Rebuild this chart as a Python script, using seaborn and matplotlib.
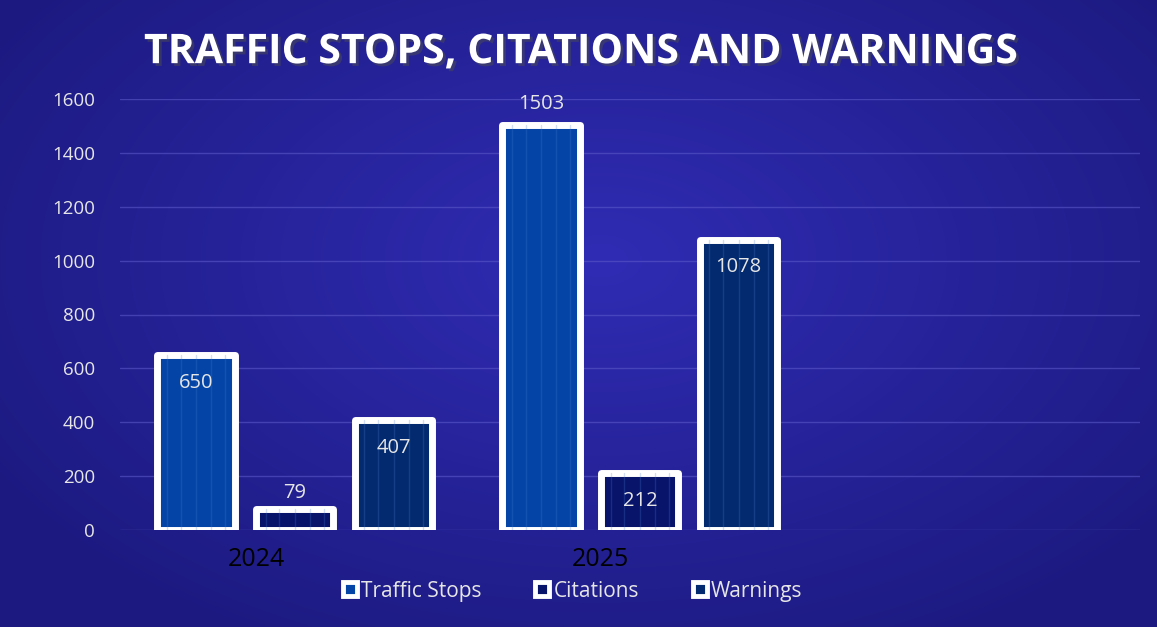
"""Traffic stops, citations and warnings - grouped bars by year."""

import matplotlib

matplotlib.use("Agg")
import matplotlib.pyplot as plt
import matplotlib.patheffects as pe
import matplotlib.transforms as mtransforms
from matplotlib.lines import Line2D
import numpy as np
import pandas as pd
import seaborn as sns

years = ["2024", "2025"]
series = ["Traffic Stops", "Citations", "Warnings"]
traffic_stops = [650, 1503]
citations = [79, 212]
warnings = [407, 1078]
y_ticks = [0, 200, 400, 600, 800, 1000, 1200, 1400, 1600]
colors = ["#0344a6", "#07146a", "#032a6e"]

sns.set_theme(style="white")
plt.rcParams["font.family"] = ["Open Sans", "DejaVu Sans"]

df = pd.DataFrame({
    "year": years * 3,
    "series": [s for s in series for _ in years],
    "value": traffic_stops + citations + warnings,
})

fig = plt.figure(figsize=(11.57, 6.27), dpi=100)

# fondo con degradado radial
bg = fig.add_axes([0, 0, 1, 1], zorder=-5)
yy, xx = np.mgrid[0:627, 0:1157]
r = np.sqrt(((xx - 600) / 720) ** 2 + ((yy - 260) / 440) ** 2)
r = np.clip(r, 0, 1)
c0 = np.array([0x30, 0x2c, 0xb4]) / 255
c1 = np.array([0x1c, 0x1a, 0x80]) / 255
img = c0[None, None, :] * (1 - r[..., None]) + c1[None, None, :] * r[..., None]
bg.imshow(img, aspect="auto", extent=[0, 1, 0, 1])
bg.axis("off")

ax = fig.add_axes([120 / 1157, 97 / 627, 1020 / 1157, 431 / 627])
ax.patch.set_alpha(0)

sns.barplot(data=df, x="year", y="value", hue="series", hue_order=series,
            palette=colors, saturation=1, width=0.86, gap=0.22, ax=ax,
            legend=False, zorder=3)

for p in ax.patches:
    p.set_edgecolor("white")
    p.set_linewidth(5)
    p.set_joinstyle("round")

for cont, vals in zip(ax.containers, [traffic_stops, citations, warnings]):
    for bar, v in zip(cont, vals):
        x0, w = bar.get_x(), bar.get_width()
        xc = x0 + w / 2
        # rayas verticales tenues dentro de la barra
        for f in (0.12, 0.3, 0.5, 0.7, 0.88):
            ax.plot([x0 + f * w] * 2, [0, v], color="#4a7fd0", alpha=0.25,
                    linewidth=1, zorder=4)
        if v < 150:
            ax.annotate(str(v), (xc, v), xytext=(0, 4), textcoords="offset points",
                        ha="center", va="bottom", color="#e6e6e6", fontsize=14.5,
                        zorder=5)
        elif v > 1450:
            ax.annotate(str(v), (xc, v), xytext=(0, 8), textcoords="offset points",
                        ha="center", va="bottom", color="#e6e6e6", fontsize=14.5,
                        zorder=5, annotation_clip=False)
        else:
            ax.annotate(str(v), (xc, v), xytext=(0, -20), textcoords="offset points",
                        ha="center", va="center", color="#e6e6e6", fontsize=14.5,
                        zorder=5)

ax.set_xlim(-0.507, 2.45)
ax.set_ylim(0, 1600)
ax.set_yticks(y_ticks)
ax.tick_params(axis="y", colors="#e6e6e6", labelsize=13.5, length=0, pad=18)
ax.tick_params(axis="x", colors="black", labelsize=18, length=0, pad=12)
ax.set_xticks(range(len(years)))
ax.set_xticklabels(years)
shift = mtransforms.ScaledTranslation(-39 / 100, 0, fig.dpi_scale_trans)
for lab in ax.get_xticklabels():
    lab.set_transform(lab.get_transform() + shift)
ax.set_xlabel("")
ax.set_ylabel("")
ax.grid(axis="y", color="#5a58c8", linewidth=1, alpha=0.6, zorder=0)
for s in ax.spines.values():
    s.set_visible(False)

fig.text(0.502, 0.916, "TRAFFIC STOPS, CITATIONS AND WARNINGS", ha="center",
         va="center", color="white", fontsize=29.5, fontweight="bold",
         path_effects=[pe.withSimplePatchShadow(offset=(2, -2), alpha=0.5)])

handles = [Line2D([], [], marker="s", markersize=10, markerfacecolor=c,
                  markeredgecolor="white", markeredgewidth=3.5, linestyle="none")
           for c in colors]
fig.legend(handles, series, loc="center", bbox_to_anchor=(572 / 1157, 0.057),
           ncol=3, frameon=False, handlelength=0.8, handletextpad=0.15,
           columnspacing=2.5, labelcolor="#e6e6e6", fontsize=15)

fig.savefig("out.png", dpi=100)
